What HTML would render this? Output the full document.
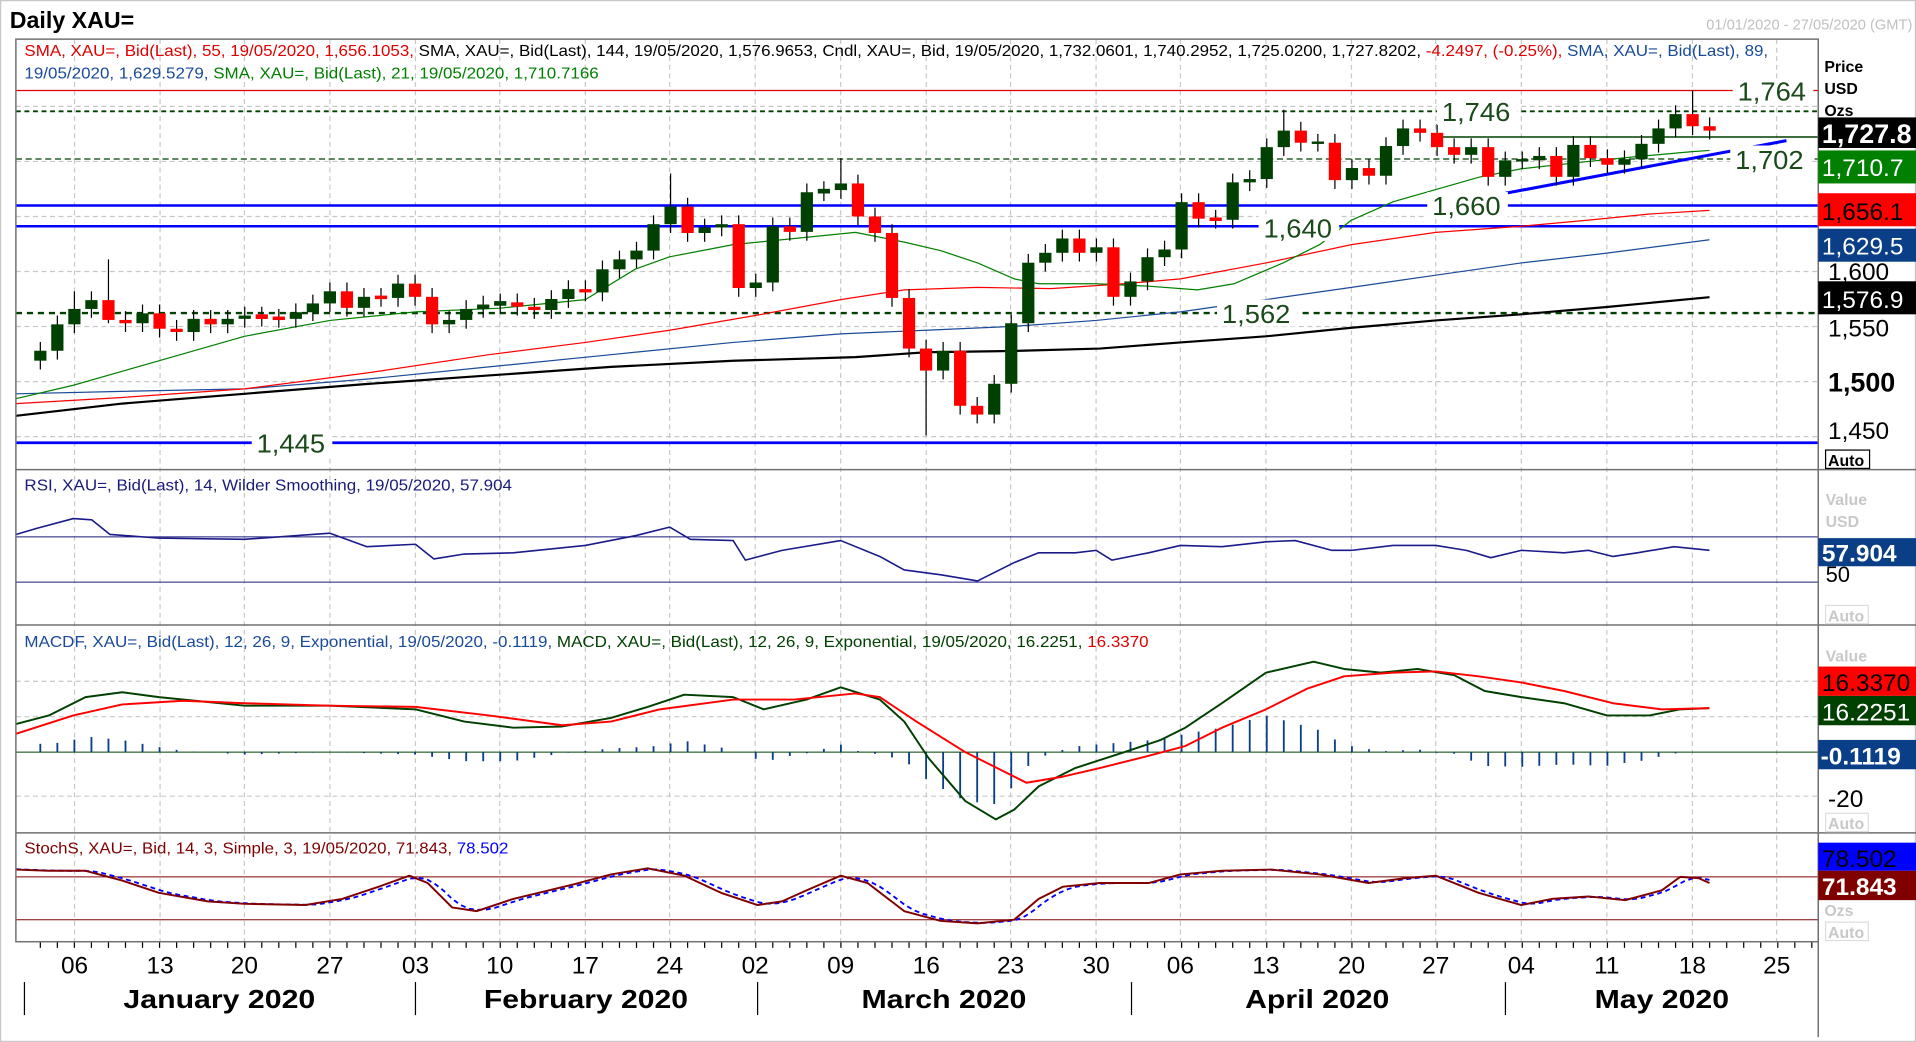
<!DOCTYPE html>
<html><head><meta charset="utf-8"><style>
html,body{margin:0;padding:0;background:#fff;overflow:hidden}
svg{display:block}
text{font-family:"Liberation Sans",sans-serif}
</style></head><body>
<svg id="s" width="1916" height="1042" viewBox="0 0 1568 852" preserveAspectRatio="none" xmlns="http://www.w3.org/2000/svg">
<rect x="0" y="0" width="1568" height="852" fill="#fff"/>
<rect x="0.5" y="0.5" width="1567" height="851" fill="none" stroke="#c8c8c8"/>
<text x="8" y="23" font-size="19" font-weight="bold">Daily XAU=</text>
<text x="1565" y="24" font-size="12" fill="#c0c0c0" text-anchor="end">01/01/2020 - 27/05/2020 (GMT)</text>
<g id="grid"></g>
<g id="lines"></g>
<g id="cand"></g>
<g fill="none" stroke="#707070" stroke-width="1.2">
<rect x="13" y="32" width="1475" height="738"/>
<line x1="1488" y1="32" x2="1488" y2="848"/>
<line x1="13" y1="384" x2="1568" y2="384"/>
<line x1="13" y1="511" x2="1568" y2="511"/>
<line x1="13" y1="681" x2="1568" y2="681"/>
</g>
<text x="20" y="46" font-size="13" textLength="1427" lengthAdjust="spacingAndGlyphs"><tspan fill="#e00000">SMA, XAU=, Bid(Last),  55, 19/05/2020, 1,656.1053, </tspan><tspan fill="#000">SMA, XAU=, Bid(Last),  144, 19/05/2020, 1,576.9653, Cndl, XAU=, Bid, 19/05/2020, 1,732.0601, 1,740.2952, 1,725.0200, 1,727.8202, </tspan><tspan fill="#e00000">-4.2497, (-0.25%), </tspan><tspan fill="#1a4a9a">SMA, XAU=, Bid(Last),  89,</tspan></text>
<text x="20" y="64" font-size="13" textLength="470" lengthAdjust="spacingAndGlyphs"><tspan fill="#1a4a9a">19/05/2020, 1,629.5279, </tspan><tspan fill="#008000">SMA, XAU=, Bid(Last),  21, 19/05/2020, 1,710.7166</tspan></text>
<text x="20" y="401" font-size="13" fill="#1a1a7a" textLength="399" lengthAdjust="spacingAndGlyphs">RSI, XAU=, Bid(Last),  14, Wilder Smoothing, 19/05/2020, 57.904</text>
<text x="20" y="529" font-size="13" textLength="920" lengthAdjust="spacingAndGlyphs"><tspan fill="#1a4a9a">MACDF, XAU=, Bid(Last),  12, 26, 9, Exponential, 19/05/2020, -0.1119, </tspan><tspan fill="#004000">MACD, XAU=, Bid(Last),  12, 26, 9, Exponential, 19/05/2020, 16.2251, </tspan><tspan fill="#e00000">16.3370</tspan></text>
<text x="20" y="698" font-size="13" textLength="396" lengthAdjust="spacingAndGlyphs"><tspan fill="#800000">StochS, XAU=, Bid,  14, 3, Simple, 3, 19/05/2020, 71.843, </tspan><tspan fill="#0000ff">78.502</tspan></text>
<g font-size="21" fill="#1a4a1a">
<rect x="1418" y="64" width="66" height="22" fill="#fff"/><text x="1422" y="82" textLength="56" lengthAdjust="spacingAndGlyphs">1,764</text>
<rect x="1176" y="80" width="66" height="22" fill="#fff"/><text x="1180" y="99" textLength="56" lengthAdjust="spacingAndGlyphs">1,746</text>
<rect x="1416" y="119" width="66" height="22" fill="#fff"/><text x="1420" y="138" textLength="56" lengthAdjust="spacingAndGlyphs">1,702</text>
<rect x="1168" y="157" width="66" height="22" fill="#fff"/><text x="1172" y="176" textLength="56" lengthAdjust="spacingAndGlyphs">1,660</text>
<rect x="1030" y="175" width="66" height="22" fill="#fff"/><text x="1034" y="194" textLength="56" lengthAdjust="spacingAndGlyphs">1,640</text>
<rect x="996" y="245" width="66" height="22" fill="#fff"/><text x="1000" y="264" textLength="56" lengthAdjust="spacingAndGlyphs">1,562</text>
<rect x="206" y="351" width="66" height="22" fill="#fff"/><text x="210" y="370" textLength="56" lengthAdjust="spacingAndGlyphs">1,445</text>
</g>
<g font-size="20">
<text x="1493" y="59" font-size="13" font-weight="bold">Price</text>
<text x="1493" y="77" font-size="13" font-weight="bold">USD</text>
<text x="1493" y="95" font-size="13" font-weight="bold">Ozs</text>
<rect x="1488" y="96" width="80" height="25" fill="#000"/><text x="1491" y="117" fill="#fff" font-weight="bold" font-size="22">1,727.8</text>
<rect x="1488" y="123" width="80" height="27" fill="#008000"/><text x="1491" y="144" fill="#fff">1,710.7</text>
<rect x="1488" y="158" width="80" height="27" fill="#ff0000"/><text x="1491" y="180" fill="#000">1,656.1</text>
<rect x="1488" y="187" width="80" height="27" fill="#0a3f87"/><text x="1491" y="208" fill="#fff">1,629.5</text>
<text x="1496" y="229">1,600</text>
<rect x="1488" y="230" width="80" height="27" fill="#000"/><text x="1491" y="252" fill="#fff">1,576.9</text>
<text x="1496" y="275">1,550</text>
<text x="1496" y="320" font-weight="bold" font-size="22">1,500</text>
<text x="1496" y="359">1,450</text>
<rect x="1494" y="368" width="36" height="15" fill="#fff" stroke="#000"/><text x="1496" y="381" font-size="13" font-weight="bold">Auto</text>
</g>
<g font-size="20">
<text x="1494" y="413" font-size="13" font-weight="bold" fill="#c8c8c8">Value</text>
<text x="1494" y="431" font-size="13" font-weight="bold" fill="#c8c8c8">USD</text>
<rect x="1488" y="440" width="80" height="23" fill="#0a3f87"/><text x="1491" y="459" fill="#fff" font-weight="bold">57.904</text>
<text x="1494" y="476" font-size="18">50</text>
<rect x="1494" y="495" width="35" height="15" fill="#fff" stroke="#ddd"/><text x="1496" y="508" font-size="13" font-weight="bold" fill="#c8c8c8">Auto</text>
</g>
<g font-size="20">
<text x="1494" y="541" font-size="13" font-weight="bold" fill="#c8c8c8">Value</text>
<rect x="1488" y="545" width="80" height="24" fill="#ff0000"/><text x="1491" y="565" fill="#000">16.3370</text>
<rect x="1488" y="569" width="80" height="24" fill="#004000"/><text x="1491" y="589" fill="#fff">16.2251</text>
<rect x="1488" y="605" width="80" height="24" fill="#0a3f87"/><text x="1490" y="625" fill="#fff" font-weight="bold">-0.1119</text>
<text x="1496" y="660">-20</text>
<rect x="1494" y="665" width="35" height="15" fill="#fff" stroke="#ddd"/><text x="1496" y="678" font-size="13" font-weight="bold" fill="#c8c8c8">Auto</text>
</g>
<g font-size="20">
<rect x="1488" y="689" width="80" height="23" fill="#0000ff"/><text x="1491" y="709" fill="#000">78.502</text>
<rect x="1488" y="712" width="80" height="24" fill="#800000"/><text x="1491" y="732" fill="#fff" font-weight="bold">71.843</text>
<text x="1493" y="749" font-size="13" font-weight="bold" fill="#c8c8c8">Ozs</text>
<rect x="1494" y="754" width="35" height="15" fill="#fff" stroke="#ddd"/><text x="1496" y="767" font-size="13" font-weight="bold" fill="#c8c8c8">Auto</text>
</g>
<g id="dates" font-size="20" text-anchor="middle"></g>
<g font-size="21" font-weight="bold">
<text x="101" y="824" textLength="157" lengthAdjust="spacingAndGlyphs">January 2020</text>
<text x="396" y="824" textLength="167" lengthAdjust="spacingAndGlyphs">February 2020</text>
<text x="705" y="824" textLength="135" lengthAdjust="spacingAndGlyphs">March 2020</text>
<text x="1019" y="824" textLength="118" lengthAdjust="spacingAndGlyphs">April 2020</text>
<text x="1305" y="824" textLength="110" lengthAdjust="spacingAndGlyphs">May 2020</text>
</g>
<g stroke="#000" stroke-width="1">
<line x1="20" y1="803" x2="20" y2="830"/><line x1="340" y1="803" x2="340" y2="830"/><line x1="620" y1="803" x2="620" y2="830"/><line x1="926" y1="803" x2="926" y2="830"/><line x1="1232" y1="803" x2="1232" y2="830"/>
</g>
</svg>
<script>
var NS="http://www.w3.org/2000/svg";
function el(p,t,a){var e=document.createElementNS(NS,t);for(var k in a)e.setAttribute(k,a[k]);document.getElementById(p).appendChild(e);return e;}
var weeks=[61,131,200,270,340,409,479,548,618,688,758,827,897,966,1036,1106,1175,1245,1315,1385,1454];
var wl=["06","13","20","27","03","10","17","24","02","09","16","23","30","06","13","20","27","04","11","18","25"];
weeks.forEach(function(x,i){
 el("grid","line",{x1:x,y1:32,x2:x,y2:770,stroke:"#c8c8c8","stroke-dasharray":"4,3"});
 var t=el("dates","text",{x:x,y:796});t.textContent=wl[i];
});
for(var x=33;x<1488;x+=13.94){el("grid","line",{x1:x,y1:770,x2:x,y2:775,stroke:"#000"});}
function py(p){return 312-(p-1500)*0.9;}
[1750,1700,1650,1600,1550,1500,1450].forEach(function(p){el("grid","line",{x1:13,y1:py(p),x2:1488,y2:py(p),stroke:"#c8c8c8","stroke-dasharray":"4,3"});});
[439,476].forEach(function(y){el("grid","line",{x1:13,y1:y,x2:1488,y2:y,stroke:"#1a1a7a","stroke-width":0.8});});
[557,586,651].forEach(function(y){el("grid","line",{x1:13,y1:y,x2:1488,y2:y,stroke:"#c8c8c8","stroke-dasharray":"4,3"});});
el("grid","line",{x1:13,y1:615,x2:1488,y2:615,stroke:"#004000","stroke-width":0.8});
[717,752].forEach(function(y){el("grid","line",{x1:13,y1:y,x2:1488,y2:y,stroke:"#800000","stroke-width":0.8});});
function hl(y,c,w,d,x1,x2){var a={x1:x1||13,y1:y,x2:x2||1488,y2:y,stroke:c,"stroke-width":w};if(d)a["stroke-dasharray"]=d;el("lines","line",a);}
hl(74,"#e00000",1);hl(91,"#004000",1.6,"4,3");hl(130,"#004000",1,"5,3");hl(112,"#004000",1.2,null,1172,1488);
hl(168,"#0000ff",2);hl(185,"#0000ff",2);hl(256,"#004000",2,"5,4");hl(362,"#0000ff",2.2);
el("lines","line",{x1:1232,y1:158,x2:1462,y2:115,stroke:"#0000ff","stroke-width":2.5});
function pl(pts,c,w,d){var a={points:pts,fill:"none",stroke:c,"stroke-width":w,"stroke-linejoin":"round"};if(d)a["stroke-dasharray"]=d;el("lines","polyline",a);}
pl("13,340 100,330 200,322 300,314 400,307 500,300 600,295 700,292 758,288 827,287 900,285 966,280 1036,275 1106,268 1175,262 1245,257 1315,251 1399,243","#000",1.8);
pl("13,322 100,320 200,318 300,310 400,300 500,290 600,280 688,273 758,270 827,267 897,262 966,255 1036,245 1106,235 1175,225 1245,215 1315,207 1399,196","#1a4a9a",1);
pl("13,330 100,325 200,318 300,305 400,290 479,280 548,270 618,258 688,245 740,237 800,235 860,236 920,232 966,228 1036,215 1106,200 1175,190 1245,185 1300,180 1350,175 1399,172","#ff0000",1);
pl("13,326 60,315 130,295 200,275 270,262 340,255 409,252 479,245 520,220 548,210 600,200 650,195 700,190 740,198 770,205 800,215 830,228 850,232 897,232 940,234 980,237 1010,232 1050,215 1080,200 1106,180 1140,165 1175,155 1210,145 1245,138 1300,132 1340,128 1385,124 1399,123","#008000",1);
pl("13,437 30,432 60,424 75,425 90,437 130,440 200,441 270,436 300,447 340,445 355,457 380,453 420,452 479,446 520,438 548,431 565,441 600,442 610,458 640,450 688,442 720,455 740,466 770,470 800,475 830,460 850,452 880,452 897,450 910,458 940,452 966,446 1000,447 1036,443 1060,442 1090,450 1106,450 1140,446 1175,446 1200,450 1220,456 1245,450 1280,452 1300,450 1320,455 1340,452 1370,447 1399,450","#1a1a8a",1.3);
var m=[[13,592],[40,585],[70,570],[100,566],[130,570],[200,577],[270,577],[340,580],[380,590],[420,595],[460,594],[500,587],[530,578],[560,568],[600,570],[625,580],[660,572],[688,562],[720,572],[740,590],[760,620],[790,655],[815,670],[830,662],[850,643],[880,628],[920,615],[950,605],[970,595],[1000,575],[1036,550],[1075,541],[1100,547],[1130,550],[1160,547],[1190,552],[1215,565],[1245,570],[1280,575],[1315,585],[1350,585],[1375,580],[1399,579]];
var sg=[[13,600],[60,585],[100,576],[150,573],[200,575],[270,577],[340,578],[400,585],[460,593],[500,590],[540,580],[600,572],[650,572],[700,567],[720,570],[750,590],[790,615],[820,630],[840,640],[870,635],[900,628],[940,618],[970,610],[1000,595],[1036,580],[1070,563],[1100,553],[1140,550],[1175,549],[1210,553],[1245,558],[1280,565],[1320,575],[1360,580],[1399,579]];
function interp(a,x){for(var i=1;i<a.length;i++){if(x<=a[i][0]){var t=(x-a[i-1][0])/(a[i][0]-a[i-1][0]);return a[i-1][1]+t*(a[i][1]-a[i-1][1]);}}return a[a.length-1][1];}
for(var i=0;i<99;i++){var x=33+i*13.94;var h=interp(sg,x)-interp(m,x);el("lines","line",{x1:x,y1:615,x2:x,y2:615-h,stroke:"#0a3f87","stroke-width":1.5});}
pl(m.map(function(p){return p.join(",")}).join(" "),"#004000",1.6);
pl(sg.map(function(p){return p.join(",")}).join(" "),"#ff0000",1.6);
var k=[[13,711],[40,712],[70,712],[100,720],[130,730],[170,737],[200,739],[250,740],[280,735],[310,725],[335,716],[350,722],[370,742],[390,745],[420,735],[470,723],[500,715],[530,710],[560,716],[590,730],[620,740],[640,737],[660,728],[688,716],[710,722],[740,745],[770,753],[800,755],[830,752],[850,735],[870,725],[900,722],[940,722],[966,715],[1000,712],[1040,711],[1080,715],[1120,722],[1150,718],[1175,716],[1210,730],[1245,740],[1270,735],[1300,733],[1330,736],[1360,728],[1375,717],[1390,718],[1399,722]];
var dpts=[];for(var x=13;x<=1399;x+=7){var v=(interp(k,x-7)+interp(k,x-14)+interp(k,x))/3;dpts.push(x+","+v.toFixed(1));}
pl(dpts.join(" "),"#0000ff",1.5,"4,3");
pl(k.map(function(p){return p.join(",")}).join(" "),"#800000",1.6);
var d=[[1519,1528],[1528,1552],[1552,1566,1582],[1566,1574],[1574,1556,1611,1553],[1556,1553],[1553,1562],[1562,1548],[1548,1545],[1545,1557],[1557,1552],[1552,1557],[1557,1560],[1560,1558],[1558,1557],[1557,1563],[1563,1571],[1571,1582],[1582,1567],[1567,1577],[1577,1576],[1576,1589],[1589,1577],[1577,1552],[1552,1556],[1556,1566],[1566,1570],[1570,1572],[1572,1568],[1568,1565],[1565,1575],[1575,1584],[1584,1581],[1581,1602],[1602,1611],[1611,1619],[1619,1643],[1643,1659,1689],[1659,1635],[1635,1640],[1640,1643],[1643,1585],[1585,1590],[1590,1641],[1641,1636],[1636,1672],[1672,1674],[1674,1680,1703],[1680,1650],[1650,1635],[1635,1576],[1576,1530],[1530,1510,null,1451],[1510,1528],[1528,1478],[1478,1470],[1470,1498],[1498,1553],[1553,1608],[1608,1617],[1617,1630],[1630,1617],[1617,1622],[1622,1577],[1577,1591],[1591,1613],[1613,1620],[1620,1663],[1663,1648],[1648,1647],[1647,1681],[1681,1684],[1684,1713],[1713,1728,1747],[1728,1717],[1717,1717],[1717,1683],[1683,1694],[1694,1687],[1687,1714],[1714,1730],[1730,1726],[1726,1713],[1713,1706],[1706,1713],[1713,1686],[1686,1701],[1701,1701],[1701,1705],[1705,1686],[1686,1715],[1715,1703],[1703,1697],[1697,1702],[1702,1716],[1716,1730],[1730,1743],[1743,1732,1765],[1732,1728]];
d.forEach(function(c,i){var x=33+i*13.94,o=c[0],cl=c[1];var hi=c[2]||Math.max(o,cl)+8,lo=c[3]||Math.min(o,cl)-8;
 el("cand","line",{x1:x,y1:py(hi),x2:x,y2:py(lo),stroke:"#000","stroke-width":1});
 var top=py(Math.max(o,cl)),bot=py(Math.min(o,cl));if(bot-top<2){top-=1;bot+=1;}
 el("cand","rect",{x:x-5,y:top,width:10,height:bot-top,fill:cl>=o?"#004000":"#ff0000"});});
</script>
</body></html>
